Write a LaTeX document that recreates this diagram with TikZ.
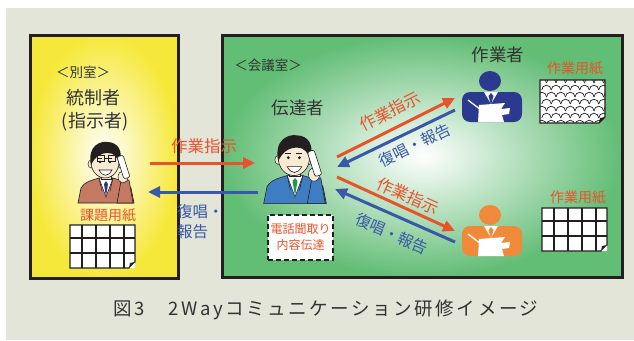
\documentclass[tikz,border=0pt]{standalone}
\usepackage{fontspec}
\setmainfont{Noto Sans CJK JP}
\newfontfamily\captionfont[LetterSpace=14]{Noto Sans CJK JP}
\usetikzlibrary{arrows.meta, positioning}

\definecolor{panelbg}{HTML}{E2E5D7}
\definecolor{roomyellow}{HTML}{F6E83A}
\definecolor{roomgreen}{HTML}{62BD75}
\definecolor{frameblack}{HTML}{231F20}
\definecolor{orderred}{HTML}{E9532C}
\definecolor{replyblue}{HTML}{3A58A8}
\definecolor{inktext}{HTML}{333333}
\definecolor{suitbrown}{HTML}{C47A62}
\definecolor{suitblue}{HTML}{3F7DC2}
\definecolor{skin}{HTML}{F7EBD3}
\definecolor{tienavy}{HTML}{34388A}
\definecolor{tiegreen}{HTML}{1E9A4A}
\definecolor{workernavy}{HTML}{2B3A8F}
\definecolor{workerorange}{HTML}{F0893A}

\tikzset{
    room/.style={draw=frameblack, line width=3pt},
    roomtext/.style={text=inktext, inner sep=1pt},
    order/.style={draw=orderred, line width=3pt, -{Triangle[length=12pt, width=11pt]}},
    reply/.style={draw=replyblue, line width=3pt, -{Triangle[length=12pt, width=11pt]}},
    ordertext/.style={text=orderred, inner sep=1pt, font=\fontsize{16.5}{18}\selectfont},
    replytext/.style={text=replyblue, inner sep=1pt, font=\fontsize{15.5}{20}\selectfont},
    sheettext/.style={text=orderred, inner sep=1pt, font=\fontsize{14}{16}\selectfont},
    % person on the phone, #1 = suit colour
    pics/caller/.style={code={
        \fill[#1, draw=frameblack, line width=0.6pt] (-28,30) -- (-25,15) .. controls (-22,9) and (-14,7) .. (-7,5) -- (7,5) .. controls (14,7) and (22,9) .. (25,15) -- (28,30) -- cycle;
        \fill[white, draw=frameblack, line width=0.5pt] (-7,5) -- (7,5) -- (0,24) -- cycle;
        \draw[frameblack, line width=0.5pt] (-7,5) -- (-4,18) (7,5) -- (4,18);
        \fill[skin, draw=frameblack, line width=0.5pt] (-5,-2) rectangle (5,6);
        \fill[skin, draw=frameblack, line width=0.5pt] (-15,-9) ellipse [x radius=3, y radius=4];
        \fill[skin, draw=frameblack, line width=0.5pt] (13,-9) ellipse [x radius=3, y radius=4];
        \fill[skin, draw=frameblack, line width=0.6pt] (-1,-11) ellipse [x radius=14, y radius=16];
        \fill[frameblack] (-15,-8) .. controls (-19,-28) and (-5,-32) .. (1,-31) .. controls (12,-31) and (18,-22) .. (13,-8) .. controls (12,-16) and (8,-20) .. (2,-20) .. controls (-6,-20) and (-11,-16) .. (-15,-8) -- cycle;
        \fill[frameblack] (-6,-11) circle (1.4) (4,-11) circle (1.4);
        \draw[frameblack, line width=0.7pt] (-9,-15) -- (-4,-15) (1,-15) -- (6,-15);
        \fill[white, draw=frameblack, line width=0.6pt] (-7,-3) .. controls (-3,4) and (2,4) .. (6,-3) -- cycle;
        \fill[#1, draw=frameblack, line width=0.6pt] (11,30) -- (15,8) -- (23,7) -- (27,30) -- cycle;
        \fill[skin, draw=frameblack, line width=0.5pt] (17,4) ellipse [x radius=5, y radius=6];
        \fill[white, draw=frameblack, line width=0.6pt, rounded corners=2pt] (11,-16) -- (17,-18) -- (24,4) -- (18,6) -- cycle;
    }},
    % pictogram worker writing, #1 = body colour
    pics/worker/.style={code={
        \fill[#1, rounded corners=8pt] (-30,-5) rectangle (30,25);
        \fill[#1] (-2,-16) ellipse [x radius=11, y radius=10];
        \fill[white] (-8,-5) -- (6,-5) -- (-1,7) -- cycle;
        \fill[#1] (-1,-4) -- (1.5,-1) -- (-1,8) -- (-3.5,-1) -- cycle;
        \fill[white] (-13,8) -- (13,6) -- (9,12) -- (18,11) -- (17,17) -- (10,18) -- (12,25) -- (-14,25) -- cycle;
        \draw[white, line width=1.3pt] (-24,3) -- (-11,13);
    }},
    % ruled work sheet with a folded corner
    pics/gridsheet/.style={code={
        \fill[white, draw=frameblack, line width=1.3pt] (0,0) -- (65,0) -- (65,37) -- (59,43) -- (0,43) -- cycle;
        \foreach \gx in {12,26,40,54} \draw[frameblack, line width=1.2pt] (\gx,0) -- (\gx,43);
        \foreach \gy in {13,28} \draw[frameblack, line width=1.2pt] (0,\gy) -- (65,\gy);
        \fill[white] (59,43) -- (65,37) -- (65,43) -- cycle;
        \fill[frameblack] (59,43) -- (65,37) -- (60,38) -- cycle;
    }},
    % patterned work sheet
    pics/wavesheet/.style={code={
        \fill[white] (0,0) -- (65,0) -- (65,37) -- (59,43) -- (0,43) -- cycle;
        \begin{scope}
            \clip (0,0) -- (65,0) -- (65,37) -- (59,43) -- (0,43) -- cycle;
            \foreach \r in {0,...,6}
                \foreach \c in {0,...,7}
                    \draw[frameblack, line width=0.7pt] ({\c*9.5 + mod(\r,2)*4.75 - 3}, {\r*7 + 3}) arc [start angle=180, end angle=360, radius=4.75];
        \end{scope}
        \draw[frameblack, line width=1.3pt] (0,0) -- (65,0) -- (65,37) -- (59,43) -- (0,43) -- cycle;
        \fill[frameblack] (59,43) -- (65,37) -- (60,38) -- cycle;
    }}
}

\begin{document}
\begin{tikzpicture}[x=1pt, y=-1pt]
    \useasboundingbox (0,0) rectangle (634,340);
    \fill[white] (0,0) rectangle (634,340);
    \fill[panelbg] (6,8) rectangle (634,340);

    % rooms
    \shade[inner color=white, outer color=roomyellow] (30,35) rectangle (178,278);
    \draw[room] (30,35) rectangle (178,278);
    \shade[inner color=white, outer color=roomgreen] (222,35) rectangle (622,277);
    \draw[room] (222,35) rectangle (622,277);

    % separate room: controller
    \node (sideroom) [roomtext, font=\fontsize{13.5}{15}\selectfont] at (83,72) {＜別室＞};
    \node (ctlname) [roomtext, font=\fontsize{18}{20}\selectfont] at (93,98) {統制者};
    \node (ctlrole) [roomtext, font=\fontsize{18}{20}\selectfont] at (95,122) {(指示者)};
    \pic at (106,173) {caller=suitbrown};
    \draw[frameblack, line width=0.8pt] (97,155) rectangle (104,161) (108,155) rectangle (115,161) (104,158) -- (108,158);
    \fill[tienavy] (106,181) -- (108,184) -- (106,197) -- (104,184) -- cycle;
    \node (ctlsheet) [sheettext] at (108,215) {課題用紙};
    \pic at (70,225) {gridsheet};

    % meeting room: relay and workers
    \node (meetroom) [roomtext, font=\fontsize{13.5}{15}\selectfont] at (268,65) {＜会議室＞};
    \node (relayname) [roomtext, font=\fontsize{17.5}{20}\selectfont] at (298,108) {伝達者};
    \pic[scale=1.12] at (295,170) {caller=suitblue};
    \fill[tiegreen] (295,178) -- (297.5,181) -- (295,196) -- (292.5,181) -- cycle;
    \node (memo) [draw=frameblack, fill=white, dash pattern=on 5pt off 3pt, line width=1.6pt, minimum width=65pt, minimum height=45pt,
        text=orderred, align=center, font=\fontsize{12}{16}\selectfont, inner sep=1pt] at (300.5,237.5) {電話聞取り\\内容伝達};
    \node (workers) [roomtext, font=\fontsize{17.5}{20}\selectfont] at (498,55) {作業者};
    \pic at (492,97) {worker=workernavy};
    \pic at (492,231) {worker=workerorange};
    \node (topsheet) [sheettext] at (575,68) {作業用紙};
    \pic at (540,80) {wavesheet};
    \node (lowsheet) [sheettext] at (578,197) {作業用紙};
    \pic at (542,208) {gridsheet};

    % arrow ends
    \coordinate (ctl-out) at (150,163);
    \coordinate (relay-in) at (255,163);
    \coordinate (relay-out) at (258,192);
    \coordinate (ctl-in) at (148,192);
    \coordinate (relay-up) at (337,157);
    \coordinate (worker1-in) at (455,98);
    \coordinate (worker1-out) at (455,110);
    \coordinate (relay-upin) at (337,167);
    \coordinate (relay-down) at (337,177);
    \coordinate (worker2-in) at (455,231);
    \coordinate (worker2-out) at (455,242);
    \coordinate (relay-downin) at (335,189);

    \draw[order] (ctl-out) -- (relay-in);
    \draw[reply] (relay-out) -- (ctl-in);
    \draw[order] (relay-up) -- (worker1-in);
    \draw[reply] (worker1-out) -- (relay-upin);
    \draw[order] (relay-down) -- (worker2-in);
    \draw[reply] (worker2-out) -- (relay-downin);

    \node (order1) [ordertext] at (204,146) {作業指示};
    \node (reply1) [replytext, align=left, anchor=north west] at (176,203) {復唱・\\報告};
    \node (order2) [ordertext, rotate=26.6] at (390,111) {作業指示};
    \node (reply2) [replytext, rotate=25.8] at (415,145) {復唱・報告};
    \node (order3) [ordertext, rotate=-24.4] at (408,196) {作業指示};
    \node (reply3) [replytext, rotate=-23.8] at (392,234) {復唱・報告};

    \node (caption) [roomtext, font=\captionfont\fontsize{18.5}{20}\selectfont] at (326,310) {図3　2Wayコミュニケーション研修イメージ};
\end{tikzpicture}
\end{document}
